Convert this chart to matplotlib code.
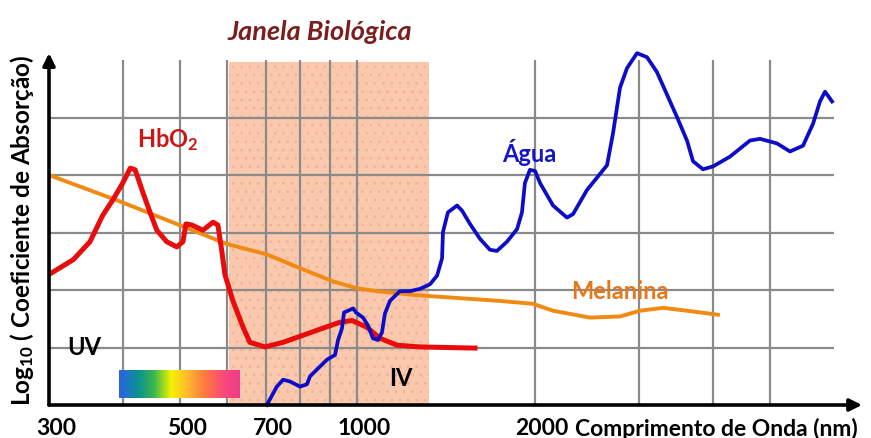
import numpy as np
import matplotlib
matplotlib.use('Agg')
import matplotlib.pyplot as plt
from matplotlib.colors import LinearSegmentedColormap
from matplotlib.transforms import ScaledTranslation

plt.rcParams['font.family'] = ['Lato', 'DejaVu Sans']
plt.rcParams['font.weight'] = 'bold'
plt.rcParams['mathtext.fontset'] = 'custom'
plt.rcParams['mathtext.rm'] = 'Lato:bold'
plt.rcParams['mathtext.it'] = 'Lato:bold'
plt.rcParams['mathtext.bf'] = 'Lato:bold'
plt.rcParams['hatch.linewidth'] = 0.5

# HbO2 (oxi-hemoglobina)
hb_nm = [300, 330, 352, 370, 385, 400, 412, 420, 433, 445, 457, 475, 494, 506, 512, 524,
         547, 569, 580, 589, 596, 615, 640, 657, 697, 748, 854, 934, 979, 1038, 1092,
         1167, 1276, 1582]
hb_y = [2.27, 2.53, 2.84, 3.30, 3.57, 3.86, 4.12, 4.09, 3.69, 3.35, 3.04, 2.84, 2.75, 2.84,
        3.15, 3.13, 3.04, 3.18, 3.13, 2.67, 2.27, 1.81, 1.35, 1.09, 1.01, 1.09, 1.30, 1.44,
        1.47, 1.35, 1.16, 1.04, 1.01, 0.99]

# Melanina
mel_nm = [300, 396, 601, 702, 799, 909, 998, 1079, 1261, 1744, 1983, 2145, 2477, 2786,
          3012, 3295, 3617, 4083]
mel_y = [4.0, 3.54, 2.80, 2.62, 2.38, 2.15, 2.03, 1.98, 1.91, 1.81, 1.76, 1.64, 1.52, 1.54,
         1.64, 1.69, 1.64, 1.57]

# Agua
agua_nm = [702, 730, 748, 768, 799, 821, 831, 864, 888, 916, 927, 941, 949, 964, 983, 994,
           1022, 1042, 1062, 1083, 1100, 1113, 1135, 1180, 1227, 1276, 1327, 1364, 1391,
           1396, 1423, 1475, 1504, 1551, 1613, 1677, 1723, 1792, 1864, 1900, 1922, 1960,
           2000, 2039, 2145, 2265, 2319, 2449, 2648, 2710, 2786, 2863, 2977, 3095, 3218,
           3346, 3479, 3618, 3704, 3851, 4005, 4279, 4627, 4811, 5140, 5408, 5690, 5916,
           6080, 6200, 6373]
agua_y = [0.0, 0.32, 0.44, 0.41, 0.32, 0.36, 0.50, 0.67, 0.79, 0.87, 1.13, 1.33, 1.61, 1.64,
          1.68, 1.61, 1.52, 1.38, 1.16, 1.13, 1.26, 1.59, 1.81, 1.98, 1.98, 2.02, 2.10, 2.25,
          2.55, 3.01, 3.35, 3.47, 3.38, 3.15, 2.89, 2.70, 2.68, 2.84, 3.06, 3.35, 3.86, 4.09,
          4.07, 3.86, 3.47, 3.26, 3.32, 3.74, 4.17, 4.72, 5.52, 5.86, 6.12, 6.05, 5.79, 5.40,
          5.01, 4.60, 4.24, 4.10, 4.15, 4.32, 4.60, 4.63, 4.55, 4.41, 4.51, 4.89, 5.28, 5.45,
          5.28]

janela = [605, 1320]
grid_x = [400, 500, 600, 700, 800, 900, 1000, 2000, 3000, 4000, 5000]
grid_y = [1, 2, 3, 4, 5]
tick_nm = [300, 500, 700, 1000, 2000]
espectro = ['#2a64e0', '#0a8f96', '#3cb84a', '#f2f200', '#ffb830', '#ff7840', '#f84c78', '#ee3a8c']
espectro_nm = [395, 632]

fig = plt.figure(figsize=(8.71, 4.39), dpi=100)
ax = fig.add_axes([49/871, 33/439, 813/871, 399/439])
ax.set_xscale('log')
ax.set_xlim(300, 7163)
ax.set_ylim(0, 406/58.5)
for s in ax.spines.values():
    s.set_visible(False)

# janela biologica
ax.fill_between(janela, 0, 5.97, facecolor='#f9c8ad', edgecolor='#f4ad8c', hatch='..',
                linewidth=0, zorder=0)

# grade
ax.vlines(grid_x, 0, 6.0, color='#8a8a8a', lw=1.6, zorder=1)
ax.hlines(grid_y, 300, 6423, color='#8a8a8a', lw=1.6, zorder=1)

# barra do espectro visivel
cmap = LinearSegmentedColormap.from_list('vis', espectro)
xe = np.geomspace(espectro_nm[0], espectro_nm[1], 120)
ax.pcolormesh(xe, [0.12, 0.615], np.linspace(0, 1, 119)[None, :], cmap=cmap, zorder=2)

ax.plot(mel_nm, mel_y, color='#f08a12', lw=2.8, zorder=3, solid_joinstyle='round')
ax.plot(hb_nm, hb_y, color='#e80c0c', lw=3.6, zorder=4, solid_joinstyle='round')
ax.plot(agua_nm, agua_y, color='#0d0dc8', lw=2.7, zorder=5, solid_joinstyle='round',
        clip_on=False)

# eixos com setas
ax.annotate('', xy=(7163, 0), xytext=(300, 0),
            arrowprops=dict(arrowstyle='-|>', lw=2.6, color='black', mutation_scale=18,
                            shrinkA=0, shrinkB=0), annotation_clip=False, zorder=6)
ax.annotate('', xy=(300, 6.12), xytext=(300, 0),
            arrowprops=dict(arrowstyle='-|>', lw=2.6, color='black', mutation_scale=18,
                            shrinkA=0, shrinkB=0), annotation_clip=False, zorder=6)

ax.set_yticks([])
ax.set_xticks(tick_nm)
ax.set_xticklabels([str(t) for t in tick_nm], fontsize=16.5, fontweight='bold')
ax.xaxis.set_minor_locator(matplotlib.ticker.NullLocator())
ax.tick_params(axis='x', length=0, pad=9)
off = ScaledTranslation(7/100, 0, fig.dpi_scale_trans)
for lbl in ax.get_xticklabels():
    lbl.set_transform(lbl.get_transform() + off)

ax.text(864, 6.5, 'Janela Biológica', color='#7a1e1e', fontsize=19.5, fontstyle='italic',
        fontweight='bold', ha='center', va='center')
ax.text(477, 4.63, 'HbO$_2$', color='#cc1515', fontsize=17, ha='center', va='center')
ax.text(1953, 4.41, 'Água', color='#1515c8', fontsize=17, ha='center', va='center')
ax.text(2786, 2.0, 'Melanina', color='#e27a1c', fontsize=17, ha='center', va='center')
ax.text(344, 1.01, 'UV', color='black', fontsize=17, ha='center', va='center')
ax.text(1185, 0.48, 'IV', color='black', fontsize=17, ha='center', va='center')

fig.text(575/871, 1 - 429/439, 'Comprimento de Onda (nm)', fontsize=16.5, ha='left', va='center')
fig.text(22/871, 1 - 230/439, 'Log$_{10}$ ( Coeficiente de Absorção)', fontsize=17.5,
         rotation=90, ha='center', va='center')

fig.savefig('out.png', dpi=100)
